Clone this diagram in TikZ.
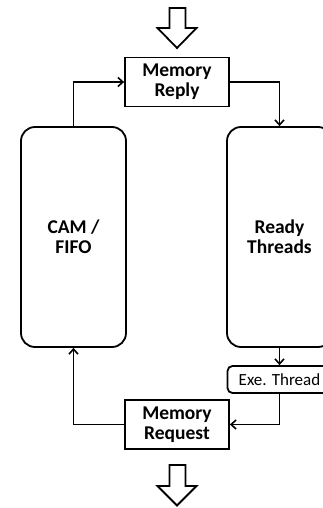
\documentclass[tikz,border=0pt]{standalone}
\usepackage{fontspec}
\setmainfont{Carlito}
\usetikzlibrary{arrows.meta}
\begin{document}
\begin{tikzpicture}[x=1pt,y=-1pt,
  box/.style={draw, line width=1.8pt, fill=white, align=center, inner sep=0pt,
    font=\fontsize{19.5}{20}\selectfont\bfseries},
  membox/.style={box, minimum width=104pt, minimum height=49pt},
  bigbox/.style={box, rounded corners=14pt, minimum width=105pt, minimum height=220pt},
  exebox/.style={draw, line width=1.8pt, rounded corners=5pt, inner sep=0pt,
    minimum width=104pt, minimum height=27pt, font=\fontsize{17}{18}\selectfont},
  arr/.style={line width=1.8pt, -{Straight Barb[length=5pt,width=9pt,line width=1.6pt]}},
  blockarrow/.style={draw, line width=1.8pt, fill=white, line join=miter}
]
\useasboundingbox (0,0) rectangle (323,508);
\clip (0,0) rectangle (323,508);

\node[membox] (reply) at (177,82) {Memory\\Reply};
\node[membox] (request) at (177,424.5) {Memory\\Request};
\node[bigbox] (cam) at (73.5,237) {CAM /\\FIFO};
\node[bigbox] (ready) at (279.5,237) {Ready\\Threads};
\node[exebox] (exe) at (279.5,379.5) {Exe. Thread};

\draw[arr] (cam.north) |- (reply.west);
\draw[arr] (reply.east) -| (ready.north);
\draw[arr] (ready.south) -- (exe.north);
\draw[arr] (exe.south) |- (request.east);
\draw[arr] (request.west) -| (cam.south);

% block arrows
\path[blockarrow] (169.5,8) -- (185.5,8) -- (185.5,28) -- (196.5,28) -- (177,48) -- (157.5,28) -- (169.5,28) -- cycle;
\path[blockarrow] (169.5,465) -- (185.5,465) -- (185.5,486) -- (196.5,486) -- (177,505.5) -- (157.5,486) -- (169.5,486) -- cycle;
\end{tikzpicture}
\end{document}
